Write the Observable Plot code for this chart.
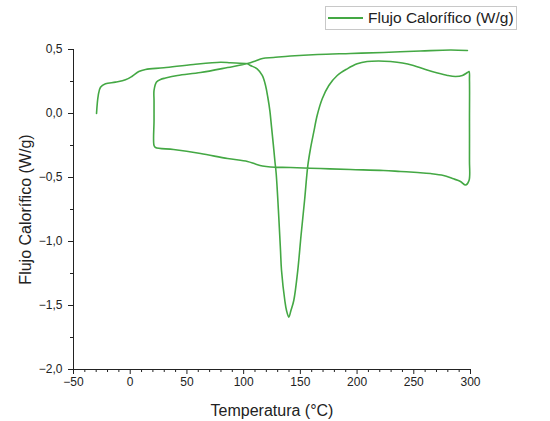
<!DOCTYPE html>
<html>
<head>
<meta charset="utf-8">
<script src="https://cdn.jsdelivr.net/npm/d3@7"></script>
<script src="https://cdn.jsdelivr.net/npm/@observablehq/plot@0.6"></script>
<style>
  body { margin: 0; background: #fff; font-family: "Liberation Sans", Arial, sans-serif; }
  #wrap { position: relative; width: 550px; height: 421px; }
  #legend { position: absolute; left: 325px; top: 6px; width: 192px; height: 24px; box-sizing: border-box;
            border: 1px solid #c8c8c8; display: flex; align-items: center; font-size: 15.5px; color: #222; background: #fff; white-space: nowrap; }
  #legend .sw { width: 35px; height: 0; border-top: 2px solid #44a844; margin-left: 2px; margin-right: 5px; }
</style>
</head>
<body>
<div id="wrap">
  <div id="chart"></div>
  <div id="legend"><span class="sw"></span><span id="legtext"></span></div>
</div>
<script>
// Temperature (°C) and heat flow (W/g), in path order
const temperature = [
  -29.7, -28.2, -26.2, -21.8, -13.0, -4.2, 1.7, 7.6, 13.5, 29.6, 55.8, 79.6, 88.4, 103.1,
  106.0, 111.9, 116.4, 119.3, 121.3, 123.1, 124.6, 126.1, 127.5, 128.7, 131.0, 132.5, 133.4, 136.3, 137.8, 139.8,
  141.7, 144.2, 147.7, 150.6, 153.7, 156.6, 158.9, 161.8, 164.8, 169.3, 175.1, 182.5, 191.3, 200.1,
  208.9, 218.9, 229.5, 240.0, 249.7, 260.3, 270.9, 279.7, 286.8, 292.9, 297.3, 298.7,
  299.1, 299.1, 299.1, 298.7, 295.6,
  291.2, 284.1, 276.2, 264.7, 253.3, 238.3, 223.3, 194.2, 167.7, 141.3, 123.7, 116.6, 110.4,
  103.4, 85.8, 62.0, 38.2, 22.3, 21.0,
  21.0, 21.0, 21.0, 23.2, 26.7, 31.1, 41.7, 62.0, 85.8, 103.4, 110.4, 116.6, 126.3,
  141.3, 165.1, 194.2, 223.3, 255.9, 282.4, 297.3
];
const heatFlow = [
  0.0, 0.14, 0.205, 0.232, 0.245, 0.263, 0.291, 0.328, 0.344, 0.357, 0.383, 0.40, 0.396, 0.388,
  0.375, 0.349, 0.297, 0.219, 0.127, 0.023, -0.107, -0.237, -0.367, -0.471, -0.8125, -1.07, -1.227, -1.461, -1.539, -1.591,
  -1.539, -1.461, -1.227, -0.953, -0.68, -0.406, -0.276, -0.146, -0.016, 0.115, 0.219, 0.297, 0.349, 0.388,
  0.406, 0.41, 0.406, 0.395, 0.375, 0.344, 0.316, 0.297, 0.289, 0.297, 0.32, 0.328,
  0.258, -0.055, -0.367, -0.523, -0.559,
  -0.531, -0.508, -0.484, -0.469, -0.461, -0.453, -0.445, -0.4375, -0.43, -0.422, -0.418, -0.41, -0.395,
  -0.375, -0.352, -0.3125, -0.281, -0.266, -0.25,
  -0.055, 0.10, 0.18, 0.246, 0.266, 0.277, 0.297, 0.32, 0.359, 0.39, 0.41, 0.43, 0.4375,
  0.449, 0.461, 0.469, 0.477, 0.488, 0.496, 0.492
];
const xTicks = [-50, 0, 50, 100, 150, 200, 250, 300];
const xMinor = [-40, -30, -20, -10, 10, 20, 30, 40, 60, 70, 80, 90, 110, 120, 130, 140, 160, 170, 180, 190, 210, 220, 230, 240, 260, 270, 280, 290];
const yTicks = [-2.0, -1.5, -1.0, -0.5, 0.0, 0.5];
const yMinor = [-1.75, -1.25, -0.75, -0.25, 0.25];
const seriesName = "Flujo Calorífico (W/g)";
const xTitle = "Temperatura (°C)";
const yTitle = "Flujo Calorífico (W/g)";

const points = temperature.map((t, i) => ({t, q: heatFlow[i]}));
const minus = s => s.replace("-", "\u2212");
const fmtX = d => minus(String(d));
const fmtY = d => minus(d.toFixed(1).replace(".", ","));
const green = "#44a844";

const plot = Plot.plot({
  width: 550,
  height: 421,
  marginLeft: 73,
  marginRight: 80,
  marginTop: 49,
  marginBottom: 52,
  style: {fontFamily: "'Liberation Sans', Arial, sans-serif", fontSize: "12px", color: "#222", background: "#fff", overflow: "visible"},
  x: {domain: [-50, 300]},
  y: {domain: [-2, 0.5]},
  marks: [
    Plot.axisX({ticks: xTicks, tickFormat: fmtX, tickSize: 5, tickPadding: 3, label: null, stroke: "#222"}),
    Plot.axisX({ticks: xMinor, tickSize: 3, text: null, label: null, stroke: "#222"}),
    Plot.axisY({ticks: yTicks, tickFormat: fmtY, tickSize: 5, tickPadding: 6, label: null, stroke: "#222"}),
    Plot.axisY({ticks: yMinor, tickSize: 3, text: null, label: null, stroke: "#222"}),
    Plot.ruleX([-50], {stroke: "#222"}),
    Plot.ruleY([-2], {stroke: "#222"}),
    Plot.line(points, {x: "t", y: "q", stroke: green, strokeWidth: 1.6, curve: "catmull-rom"}),
    Plot.text([xTitle], {text: d => d, frameAnchor: "bottom", dy: 41, lineAnchor: "middle", fontSize: 16, fill: "#222"}),
    Plot.text([yTitle], {text: d => d, frameAnchor: "left", dx: -48, rotate: -90, textAnchor: "middle", lineAnchor: "middle", fontSize: 16, fill: "#222"})
  ]
});
document.getElementById("chart").appendChild(plot);
document.getElementById("legtext").textContent = seriesName;
</script>
</body>
</html>
